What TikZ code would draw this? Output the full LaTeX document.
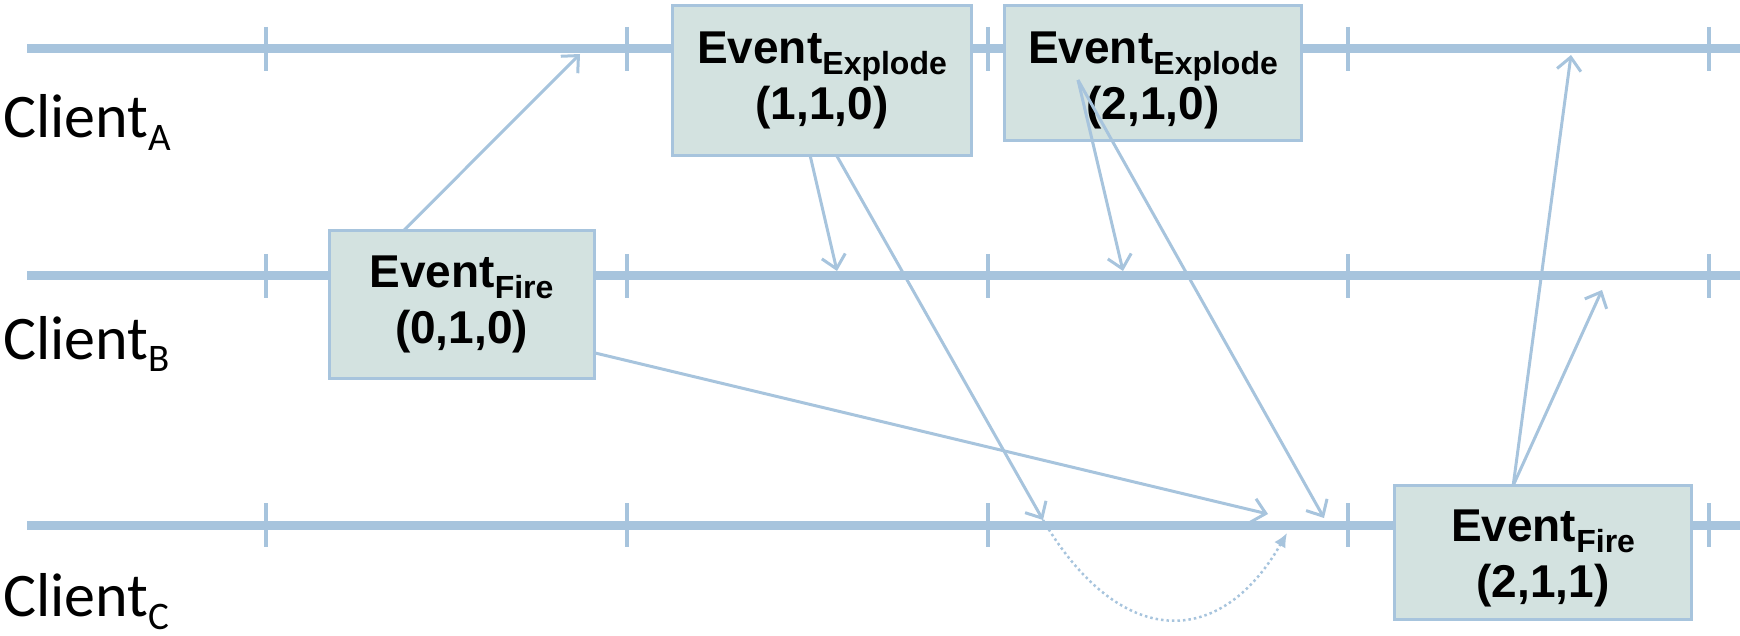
\documentclass[tikz,border=0pt]{standalone}
\usepackage{fontspec}
\setmainfont{Liberation Sans}
\newfontfamily\clientfont{Carlito}
\usepackage{xcolor}
\usepackage{tikz}
\usetikzlibrary{arrows.meta, calc}

\definecolor{lineblue}{HTML}{A7C4DD}
\definecolor{boxfill}{HTML}{D3E2E0}

\newcommand{\evsub}[1]{\raisebox{-11pt}{\fontsize{32}{32}\selectfont #1}}
\newcommand{\evpad}[1]{\rule{0pt}{#1}}
\newcommand{\clsub}[1]{\raisebox{-13pt}{\fontsize{39}{39}\selectfont #1}}

\tikzset{
    timeline/.style={lineblue, line width=9pt},
    tickmark/.style={lineblue, line width=3.5pt},
    evbox/.style={draw=lineblue, fill=boxfill, line width=3pt, inner sep=0pt, outer sep=0pt,
        align=center, font=\bfseries\fontsize{46}{56}\selectfont},
    msg/.style={lineblue, line width=3pt, -{Straight Barb[length=13pt,width=24pt]}},
    later/.style={lineblue, line width=2.5pt, dash pattern=on 2.5pt off 3pt,
        -{Latex[length=14pt,width=13pt]}},
    client/.style={anchor=base west, inner sep=0pt, font=\clientfont\fontsize{62}{62}\selectfont}
}

\begin{document}
\begin{tikzpicture}[x=1pt, y=-1pt]
    \useasboundingbox (0,0) rectangle (1740,636);

    % Trục thời gian
    \foreach \ty in {49,276,525} {
        \draw[timeline] (27,\ty) -- (1740,\ty);
        \foreach \tx in {266,627,988,1348,1709}
            \draw[tickmark] (\tx,\ty-22) -- (\tx,\ty+22);
    }

    % Nhãn
    \node[client] (ca) at (3,138) {Client\clsub{A}};
    \node[client] (cb) at (3,359) {Client\clsub{B}};
    \node[client] (cc) at (3,616) {Client\clsub{C}};

    % Sự kiện
    \node[evbox, minimum width=265pt, minimum height=148pt] (fire1) at (461.5,304.5) {Event\evsub{Fire}\\(0,1,0)};
    \node[evbox, minimum width=299pt, minimum height=150pt] (expl1) at (822,80.5) {Event\evsub{Explode}\\(1,1,0)};
    \node[evbox, minimum width=297pt, minimum height=135pt] (expl2) at (1153,73) {\evpad{47pt}Event\evsub{Explode}\\(2,1,0)};
    \node[evbox, minimum width=297pt, minimum height=134pt] (fire2) at (1543,552.5) {\evpad{44pt}Event\evsub{Fire}\\(2,1,1)};

    \coordinate (ex2src) at (1078,80);
    \coordinate (hitA1) at (580,54);
    \coordinate (hitA2) at (1571,55);
    \coordinate (hitB1) at (837,271);
    \coordinate (hitB2) at (1123,271);
    \coordinate (hitB3) at (1602,290);
    \coordinate (hitC1) at (1043,520);
    \coordinate (hitC2) at (1268,514);
    \coordinate (hitC3) at (1324,518);
    \coordinate (dotend) at (1287,533);

    % Thông điệp
    \draw[msg] (fire1.128) -- (hitA1);
    \draw[msg] (fire1.340) -- (hitC2);
    \draw[msg] (expl1.261) -- (hitB1);
    \draw[msg] (expl1.281) -- (hitC1);
    \draw[msg] (ex2src) -- (hitB2);
    \draw[msg] (ex2src) -- (hitC3);
    \draw[msg] (fire2.114) -- (hitA2);
    \draw[msg] (fire2.114) -- (hitB3);
    \draw[later] (hitC1) .. controls (1120,650) and (1220,650) .. (dotend);
\end{tikzpicture}
\end{document}
